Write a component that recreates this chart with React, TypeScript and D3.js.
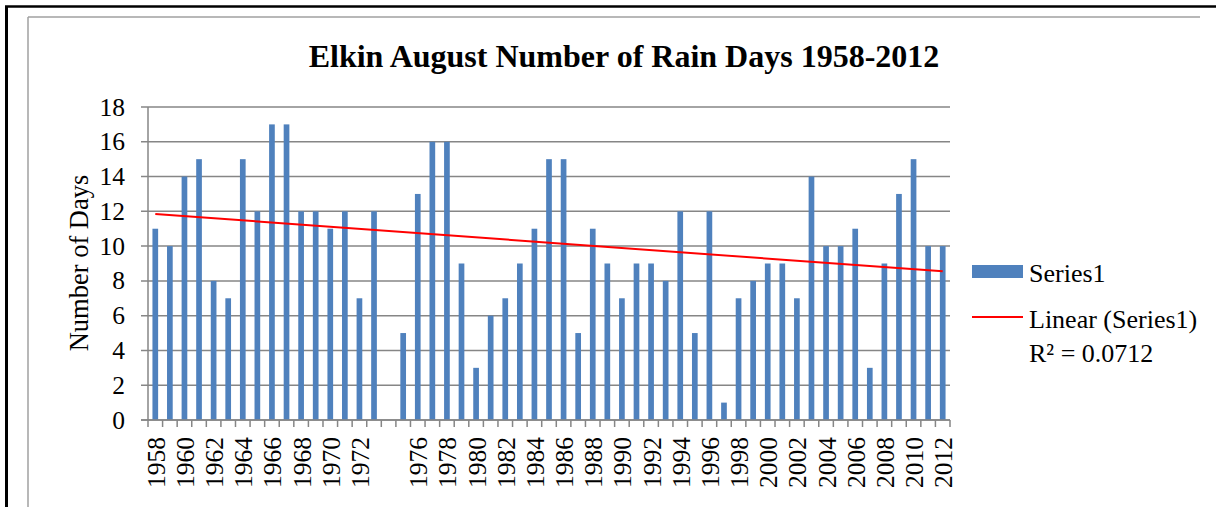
import React from "react";
import * as d3 from "d3";

const years: string[] = d3.range(1958, 2013).map((y) => String(y));
const values: (number | null)[] = [
  11, 10, 14, 15, 8, 7, 15, 12, 17, 17, 12, 12, 11, 12, 7, 12,
  null, 5, 13, 16, 16, 9, 3, 6, 7, 9, 11, 15, 15, 5, 11, 9, 7, 9, 9, 8,
  12, 5, 12, 1, 7, 8, 9, 9, 7, 14, 10, 10, 11, 3, 9, 13, 15, 10, 10,
];
const hiddenLabels: string[] = ["1974"];
const yTicks: number[] = [0, 2, 4, 6, 8, 10, 12, 14, 16, 18];
const title = "Elkin August Number of Rain Days 1958-2012";
const yTitle = "Number of Days";
const seriesName = "Series1";
const trendName = "Linear (Series1)";
const r2Label = "R² = 0.0712";

const W = 1216;
const H = 507;
const plot = { left: 148, right: 950, top: 107, bottom: 420 };
const BAR = "#4F81BD";
const GRID = "#868686";
const FONT = "'Liberation Serif', 'Times New Roman', serif";

export default function App() {
  const x = d3
    .scaleBand<string>()
    .domain(years)
    .range([plot.left, plot.right])
    .paddingInner(0.61)
    .paddingOuter(0.305);
  const xEdge = d3.scaleLinear().domain([0, years.length]).range([plot.left, plot.right]);
  const y = d3.scaleLinear().domain([0, 18]).range([plot.bottom, plot.top]);

  // linear trend (Excel style: x = 1..n, blanks skipped)
  const pts = values
    .map((v, i) => ({ i: i + 1, v }))
    .filter((p) => p.v !== null) as { i: number; v: number }[];
  const mx = d3.mean(pts, (p) => p.i)!;
  const my = d3.mean(pts, (p) => p.v)!;
  const sxy = d3.sum(pts, (p) => (p.i - mx) * (p.v - my));
  const sxx = d3.sum(pts, (p) => (p.i - mx) * (p.i - mx));
  const slope = sxy / sxx;
  const icpt = my - slope * mx;
  const cx = (i: number) => x(years[i])! + x.bandwidth() / 2;
  const trend = d3
    .line<number>()
    .x((i) => cx(i))
    .y((i) => y(icpt + slope * (i + 1)));

  return (
    <svg
      width={W}
      height={H}
      style={{ position: "absolute", left: 0, top: 0, background: "#fff" }}
      fontFamily={FONT}
    >
      <rect x={0} y={0} width={W} height={H} fill="#fff" />
      {/* outer frame */}
      <line x1={6.5} y1={6} x2={6.5} y2={H} stroke="#000" strokeWidth={3} />
      <line x1={5} y1={6.5} x2={W} y2={6.5} stroke="#000" strokeWidth={2.5} />
      {/* inner chart frame */}
      <line x1={28} y1={17} x2={28} y2={H} stroke="#a0a0a0" strokeWidth={1.5} />
      <line x1={28} y1={17} x2={1200} y2={17} stroke="#a0a0a0" strokeWidth={1.5} />

      <text
        x={624}
        y={67}
        textAnchor="middle"
        fontWeight="bold"
        fontSize={32}
        fill="#000"
      >
        {title}
      </text>

      {/* gridlines */}
      {yTicks.map((t) => (
        <g key={t}>
          <line
            x1={plot.left - 7}
            x2={plot.right}
            y1={y(t)}
            y2={y(t)}
            stroke={GRID}
            strokeWidth={1.5}
          />
          <text
            x={125}
            y={y(t)}
            textAnchor="end"
            dominantBaseline="central"
            fontSize={25.5}
            fill="#000"
          >
            {t}
          </text>
        </g>
      ))}

      {/* bars */}
      {values.map((v, i) =>
        v === null ? null : (
          <rect
            key={i}
            x={x(years[i])}
            y={y(v)}
            width={x.bandwidth()}
            height={y(0) - y(v)}
            fill={BAR}
          />
        )
      )}

      {/* axes */}
      <line x1={plot.left} x2={plot.left} y1={plot.top} y2={plot.bottom} stroke={GRID} strokeWidth={1.5} />
      <line x1={plot.left - 7} x2={plot.right} y1={plot.bottom} y2={plot.bottom} stroke={GRID} strokeWidth={1.5} />
      {d3.range(years.length + 1).map((i) => (
        <line
          key={i}
          x1={xEdge(i)}
          x2={xEdge(i)}
          y1={plot.bottom}
          y2={plot.bottom + 7}
          stroke={GRID}
          strokeWidth={1.5}
        />
      ))}
      {years.map((yr, i) =>
        i % 2 === 0 && !hiddenLabels.includes(yr) ? (
          <text
            key={yr}
            transform={`translate(${cx(i) + 1},${plot.bottom + 17}) rotate(-90)`}
            textAnchor="end"
            dominantBaseline="central"
            fontSize={25.5}
            fill="#000"
          >
            {yr}
          </text>
        ) : null
      )}

      {/* trend line */}
      <path
        d={trend([0, years.length - 1]) || ""}
        fill="none"
        stroke="#FF0000"
        strokeWidth={2}
      />

      {/* y axis title */}
      <text
        transform={`translate(88,263) rotate(-90)`}
        textAnchor="middle"
        fontSize={26.5}
        fill="#000"
      >
        {yTitle}
      </text>

      {/* legend */}
      <rect x={972} y={265} width={51} height={13} fill={BAR} />
      <text x={1029} y={282} fontSize={26} fill="#000">
        {seriesName}
      </text>
      <line x1={972} x2={1023} y1={317} y2={317} stroke="#FF0000" strokeWidth={2} />
      <text x={1029} y={328} fontSize={26} fill="#000">
        {trendName}
      </text>
      <text x={1029} y={362} fontSize={26} fill="#000">
        {r2Label}
      </text>
    </svg>
  );
}
